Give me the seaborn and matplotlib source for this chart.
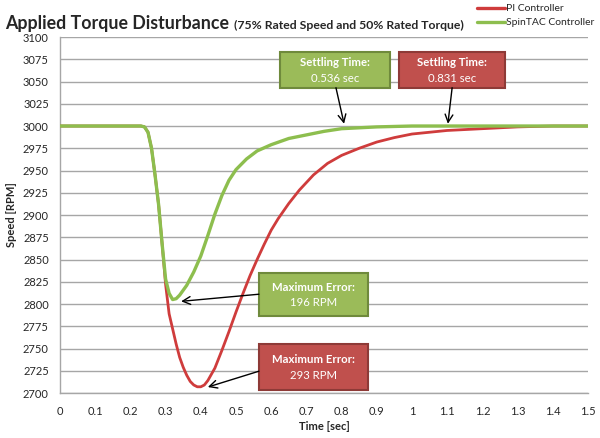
import numpy as np
import pandas as pd
import matplotlib
matplotlib.use("Agg")
import matplotlib.pyplot as plt
from matplotlib.patches import Rectangle
import seaborn as sns


# DATA

pi_time = [0.0, 0.1, 0.2, 0.23, 0.24, 0.25, 0.26, 0.27, 0.28, 0.29, 0.30,
           0.31, 0.32, 0.33, 0.34, 0.35, 0.36, 0.37, 0.38, 0.39, 0.40,
           0.41, 0.42, 0.44, 0.46, 0.48, 0.50, 0.52, 0.54, 0.56, 0.58,
           0.60, 0.62, 0.65, 0.68, 0.72, 0.76, 0.80, 0.85, 0.90, 0.95,
           1.00, 1.10, 1.20, 1.30, 1.40, 1.50]
pi_speed = [3000, 3000, 3000, 3000, 2999, 2993, 2975, 2945, 2912, 2868, 2822,
            2789, 2772, 2755, 2740, 2729, 2720, 2713, 2709, 2707, 2707,
            2709, 2714, 2728, 2748, 2769, 2791, 2812, 2832, 2850, 2867,
            2883, 2896, 2913, 2928, 2945, 2958, 2967, 2975, 2982, 2987,
            2991, 2995, 2997, 2999, 3000, 3000]

spintac_time = [0.0, 0.1, 0.2, 0.23, 0.24, 0.25, 0.26, 0.27, 0.28, 0.29, 0.30,
                0.31, 0.32, 0.33, 0.34, 0.36, 0.38, 0.40, 0.42, 0.44, 0.46,
                0.48, 0.50, 0.53, 0.56, 0.60, 0.65, 0.70, 0.75, 0.80, 0.85,
                0.90, 1.00, 1.10, 1.20, 1.30, 1.40, 1.50]
spintac_speed = [3000, 3000, 3000, 3000, 2999, 2993, 2975, 2945, 2912, 2868, 2828,
                 2812, 2805, 2806, 2810, 2821, 2836, 2854, 2877, 2901, 2922,
                 2939, 2951, 2963, 2972, 2979, 2986, 2990, 2994, 2997, 2998,
                 2999, 3000, 3000, 3000, 3000, 3000, 3000]

series_names = ["PI Controller", "SpinTAC Controller"]
x_ticks = [0, 0.1, 0.2, 0.3, 0.4, 0.5, 0.6, 0.7, 0.8, 0.9, 1.0,
           1.1, 1.2, 1.3, 1.4, 1.5]
y_ticks = list(range(2700, 3101, 25))

# callouts: (line 1, line 2)
settle_green_txt = ("Settling Time:", "0.536 sec")
settle_red_txt = ("Settling Time:", "0.831 sec")
maxerr_green_txt = ("Maximum Error:", "196 RPM")
maxerr_red_txt = ("Maximum Error:", "293 RPM")

RED_LINE = "#CF3C3C"
GREEN_LINE = "#8DBE4E"
RED_BOX = "#C0504D"
RED_EDGE = "#8E3A37"
GREEN_BOX = "#9BBB59"
GREEN_EDGE = "#6F8A3C"
TXT = "#262626"


sns.set_theme(style="white")
plt.rcParams["font.family"] = ["Lato", "DejaVu Sans"]

fig = plt.figure(figsize=(6, 4.38), dpi=100)
ax = fig.add_axes([0.1, 0.1027, 0.88, 0.8128])

df_pi = pd.DataFrame({"time": pi_time, "speed": pi_speed})
df_st = pd.DataFrame({"time": spintac_time, "speed": spintac_speed})

sns.lineplot(data=df_pi, x="time", y="speed", ax=ax, color=RED_LINE,
             linewidth=2.0, label=series_names[0], zorder=3)
sns.lineplot(data=df_st, x="time", y="speed", ax=ax, color=GREEN_LINE,
             linewidth=2.4, label=series_names[1], zorder=4)

ax.set_xlim(0, 1.5)
ax.set_ylim(2700, 3100)
ax.set_xticks(x_ticks)
ax.set_xticklabels([f"{t:g}" for t in x_ticks])
ax.set_yticks(y_ticks)
ax.tick_params(axis="both", labelsize=8, colors=TXT, length=0)
ax.tick_params(axis="x", pad=9)
ax.tick_params(axis="y", pad=8)

ax.yaxis.grid(True, color="#A6A6A6", linewidth=1.0)
ax.xaxis.grid(False)
for s in ["top", "right"]:
    ax.spines[s].set_visible(False)
for s in ["left", "bottom"]:
    ax.spines[s].set_color("#A6A6A6")
    ax.spines[s].set_linewidth(1.0)

ax.set_xlabel("Time [sec]", fontsize=8, fontweight="bold", color=TXT, labelpad=3)
ax.set_ylabel("Speed [RPM]", fontsize=8, fontweight="bold", color=TXT, labelpad=4)

# legend up in the top right corner
leg = ax.legend(loc="upper left", bbox_to_anchor=(476 / 600, 1 - 3 / 438),
                bbox_transform=fig.transFigure, frameon=False, fontsize=7.5,
                handlelength=2.7, handletextpad=0.1, labelspacing=0.45,
                borderpad=0.1, borderaxespad=0)
for line in leg.get_lines():
    line.set_linewidth(2.4)
for t in leg.get_texts():
    t.set_color(TXT)

# title in two weights/sizes
t1 = fig.text(0.008, 0.934, "Applied Torque Disturbance", fontsize=12.8,
              fontweight="bold", color=TXT, ha="left", va="baseline")
fig.canvas.draw()
bb = t1.get_window_extent()
fig.text(bb.x1 / fig.bbox.width + 0.008, 0.934,
         "(75% Rated Speed and 50% Rated Torque)", fontsize=8.8,
         fontweight="bold", color=TXT, ha="left", va="baseline")


def callout(x0, x1, y0, y1, lines, y_l1, y_l2, fill, edge):
    ax.add_patch(Rectangle((x0, y0), x1 - x0, y1 - y0, facecolor=fill,
                           edgecolor=edge, linewidth=1.5, zorder=6))
    xc = (x0 + x1) / 2
    ax.text(xc, y_l1, lines[0], ha="center", va="center", color="white",
            fontsize=8.2, fontweight="bold", zorder=7)
    ax.text(xc, y_l2, lines[1], ha="center", va="center", color="white",
            fontsize=8.2, zorder=7)


def arrow(tail, tip):
    ax.annotate("", xy=tip, xytext=tail, zorder=8,
                arrowprops=dict(arrowstyle="->", color="black", lw=1.0,
                                mutation_scale=14, shrinkA=0, shrinkB=0))


callout(0.625, 0.938, 3043, 3083, settle_green_txt, 3071, 3053, GREEN_BOX, GREEN_EDGE)
callout(0.963, 1.264, 3043, 3083, settle_red_txt, 3071, 3053, RED_BOX, RED_EDGE)
callout(0.565, 0.875, 2787, 2834.5, maxerr_green_txt, 2819, 2802, GREEN_BOX, GREEN_EDGE)
callout(0.565, 0.875, 2703.5, 2755, maxerr_red_txt, 2738, 2720, RED_BOX, RED_EDGE)

arrow((0.784, 3043), (0.807, 3002.5))
arrow((1.114, 3043), (1.102, 3002.5))
arrow((0.565, 2811), (0.344, 2803))
arrow((0.565, 2724.5), (0.420, 2706.7))

fig.savefig("out.png", dpi=100)
